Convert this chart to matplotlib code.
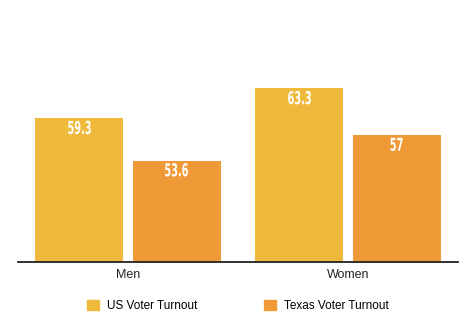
import matplotlib
matplotlib.use("Agg")
import matplotlib.pyplot as plt
import matplotlib.transforms as mtransforms
import numpy as np
from matplotlib.patches import Patch, PathPatch
from matplotlib.textpath import TextPath
from matplotlib.font_manager import FontProperties

groups = ["Men", "Women"]
us_turnout = [59.3, 63.3]
texas_turnout = [53.6, 57]
series_names = ["US Voter Turnout", "Texas Voter Turnout"]

US_COLOR = "#EFBA3B"
TX_COLOR = "#F09937"

DPI = 100
fig = plt.figure(figsize=(4.74, 3.36), dpi=DPI)
ax = fig.add_axes([18 / 474, 1 - 261.7 / 336, 440 / 474, (261.7 - 38.5) / 336])

x = np.arange(len(groups))
w = 0.4
off = 0.2205
bars_us = ax.bar(x - off, us_turnout, w, color=US_COLOR)
bars_tx = ax.bar(x + off, texas_turnout, w, color=TX_COLOR)

ax.set_ylim(40, 70)
ax.set_xlim(-0.5, 1.5)

# tall, narrow value labels: squeeze a bold glyph path horizontally
label_font = FontProperties(family="DejaVu Sans", weight="bold")


def narrow_label(xc, ytop, s, size=12.8, squeeze=0.55, drop=2.6):
    tp = TextPath((0, 0), s, size=size, prop=label_font)
    ext = tp.get_extents()
    k = DPI / 72
    tr = (mtransforms.Affine2D()
          .translate(-(ext.x0 + ext.x1) / 2, -ext.y1)
          .scale(k * squeeze, k)
          .translate(0, -drop)
          + mtransforms.ScaledTranslation(xc, ytop, ax.transData))
    ax.add_patch(PathPatch(tp, transform=tr, facecolor="white",
                           edgecolor="none", clip_on=False))


for bars, vals in ((bars_us, us_turnout), (bars_tx, texas_turnout)):
    for b, v in zip(bars, vals):
        narrow_label(b.get_x() + b.get_width() / 2, v, f"{v:g}")

for s in ("top", "right", "left"):
    ax.spines[s].set_visible(False)
ax.spines["bottom"].set_color("#222222")
ax.spines["bottom"].set_linewidth(1.3)
ax.set_yticks([])
ax.set_xticks(x)
ax.set_xticklabels(groups, family="Liberation Sans", fontsize=9, color="#222222")
ax.tick_params(axis="x", length=0, pad=5)

handles = [Patch(color=US_COLOR), Patch(color=TX_COLOR)]
fig.legend(handles, series_names, loc="center", bbox_to_anchor=(238 / 474, 1 - 306 / 336),
           ncol=2, frameon=False, handlelength=0.95, handleheight=0.95,
           handletextpad=0.7, columnspacing=5.7,
           prop={"family": "Liberation Sans", "size": 8.5})

fig.savefig("out.png", dpi=DPI)
